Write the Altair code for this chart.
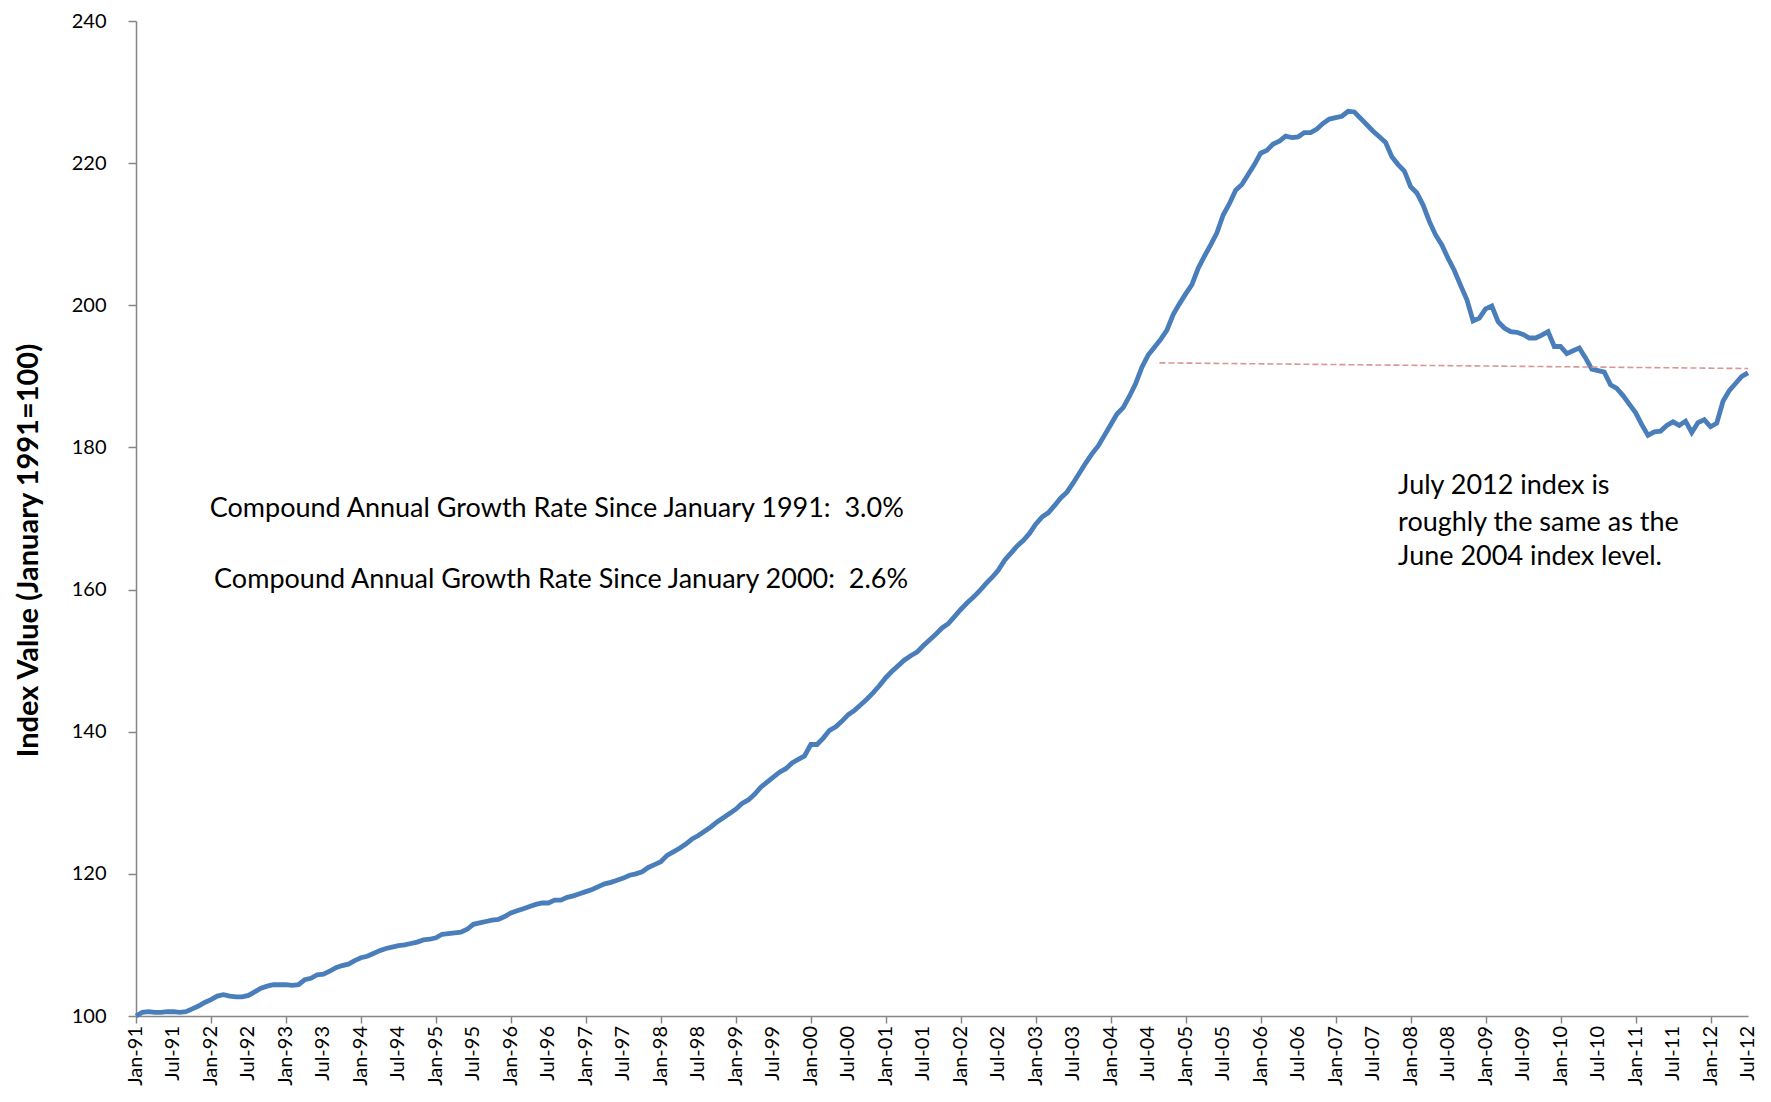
import altair as alt
import pandas as pd

# Monthly index values, January 1991 = 100
v1991 = [100.0, 100.5, 100.6, 100.5, 100.5, 100.6, 100.6, 100.5, 100.6, 101.0, 101.4, 101.9]
v1992 = [102.3, 102.8, 103.0, 102.8, 102.7, 102.7, 102.9, 103.4, 103.9, 104.2, 104.4, 104.4]
v1993 = [104.4, 104.3, 104.4, 105.1, 105.3, 105.8, 105.9, 106.3, 106.8, 107.1, 107.3, 107.8]
v1994 = [108.2, 108.4, 108.8, 109.2, 109.5, 109.7, 109.9, 110.0, 110.2, 110.4, 110.7, 110.8]
v1995 = [111.0, 111.5, 111.6, 111.7, 111.8, 112.2, 112.9, 113.1, 113.3, 113.5, 113.6, 114.0]
v1996 = [114.5, 114.8, 115.1, 115.4, 115.7, 115.9, 115.9, 116.3, 116.3, 116.7, 116.9, 117.2]
v1997 = [117.5, 117.8, 118.2, 118.6, 118.8, 119.1, 119.4, 119.8, 120.0, 120.3, 120.9, 121.3]
v1998 = [121.7, 122.6, 123.1, 123.6, 124.2, 124.9, 125.4, 126.0, 126.6, 127.3, 127.9, 128.5]
v1999 = [129.1, 129.9, 130.4, 131.2, 132.2, 132.9, 133.6, 134.3, 134.8, 135.6, 136.1, 136.6]
v2000 = [138.2, 138.2, 139.1, 140.2, 140.7, 141.5, 142.4, 143.0, 143.8, 144.6, 145.5, 146.5]
v2001 = [147.6, 148.5, 149.3, 150.1, 150.7, 151.2, 152.1, 152.9, 153.7, 154.6, 155.2, 156.2]
v2002 = [157.2, 158.1, 158.9, 159.8, 160.8, 161.7, 162.7, 164.1, 165.1, 166.1, 166.9, 167.9]
v2003 = [169.2, 170.2, 170.8, 171.8, 172.9, 173.7, 175.0, 176.4, 177.8, 179.1, 180.2, 181.7]
v2004 = [183.2, 184.7, 185.6, 187.2, 189.0, 191.3, 193.0, 194.1, 195.2, 196.5, 198.7, 200.2]
v2005 = [201.6, 202.9, 205.2, 206.9, 208.5, 210.2, 212.7, 214.3, 216.2, 217.0, 218.4, 219.8]
v2006 = [221.4, 221.8, 222.7, 223.1, 223.8, 223.6, 223.7, 224.3, 224.3, 224.8, 225.6, 226.2]
v2007 = [226.4, 226.6, 227.3, 227.2, 226.3, 225.4, 224.5, 223.7, 222.9, 220.9, 219.8, 218.9]
v2008 = [216.7, 215.8, 214.1, 211.8, 209.9, 208.5, 206.6, 204.9, 202.8, 200.8, 197.8, 198.2]
v2009 = [199.5, 199.9, 197.7, 196.8, 196.3, 196.2, 195.9, 195.4, 195.4, 195.8, 196.3, 194.2]
v2010 = [194.2, 193.2, 193.6, 194.0, 192.6, 191.0, 190.8, 190.6, 188.8, 188.3, 187.3, 186.1]
v2011 = [184.9, 183.2, 181.7, 182.2, 182.3, 183.1, 183.6, 183.1, 183.7, 182.1, 183.5, 183.9]
v2012 = [182.9, 183.4, 186.5, 188.0, 189.0, 190.0, 190.5]

index_values = (v1991 + v1992 + v1993 + v1994 + v1995 + v1996 + v1997 + v1998
                + v1999 + v2000 + v2001 + v2002 + v2003 + v2004 + v2005 + v2006
                + v2007 + v2008 + v2009 + v2010 + v2011 + v2012)
months = list(range(len(index_values)))

tick_labels = [
    "Jan-91", "Jul-91", "Jan-92", "Jul-92", "Jan-93", "Jul-93", "Jan-94", "Jul-94",
    "Jan-95", "Jul-95", "Jan-96", "Jul-96", "Jan-97", "Jul-97", "Jan-98", "Jul-98",
    "Jan-99", "Jul-99", "Jan-00", "Jul-00", "Jan-01", "Jul-01", "Jan-02", "Jul-02",
    "Jan-03", "Jul-03", "Jan-04", "Jul-04", "Jan-05", "Jul-05", "Jan-06", "Jul-06",
    "Jan-07", "Jul-07", "Jan-08", "Jul-08", "Jan-09", "Jul-09", "Jan-10", "Jul-10",
    "Jan-11", "Jul-11", "Jan-12", "Jul-12",
]
tick_positions = [i * 6 for i in range(len(tick_labels))]
y_ticks = [100, 120, 140, 160, 180, 200, 220, 240]

# Reference (dashed) line: level near mid-2004 carried to July 2012
ref_month = [163.8, 258]
ref_value = [191.9, 191.1]

df = pd.DataFrame({"month": months, "value": index_values})
ref_df = pd.DataFrame({"month": [ref_month[0]], "month2": [ref_month[1]],
                       "value": [ref_value[0]], "value2": [ref_value[1]]})
xlab_df = pd.DataFrame({"month": tick_positions, "label": tick_labels})

FONT = "Lato"
AXIS_GRAY = "#868686"
PLOT_W, PLOT_H = 1612, 995

x_scale = alt.Scale(domain=[0, 258], nice=False, zero=False)
x_enc = alt.X(
    "month:Q",
    scale=x_scale,
    axis=alt.Axis(
        values=tick_positions, labels=False,
        tickSize=7, tickColor=AXIS_GRAY, domainColor=AXIS_GRAY,
        domainWidth=1.5, tickWidth=1.5, grid=False, title=None,
    ),
)
y_enc = alt.Y(
    "value:Q",
    scale=alt.Scale(domain=[100, 240], nice=False, zero=False),
    axis=alt.Axis(
        values=y_ticks, labelFont=FONT, labelFontSize=20, labelColor="#000000",
        labelPadding=22, tickSize=8, tickColor=AXIS_GRAY, domainColor=AXIS_GRAY,
        domainWidth=1.5, tickWidth=1.5, grid=False,
        title="Index Value (January 1991=100)", titleFont=FONT, titleFontSize=29,
        titleFontWeight="bold", titleColor="#000000", titleAngle=270,
        titleX=-108, titleY=529, titleAlign="center", titleBaseline="middle",
    ),
)

line = alt.Chart(df).mark_line(color="#4A7EBB", strokeWidth=4.8).encode(x=x_enc, y=y_enc)

dashed = alt.Chart(ref_df).mark_rule(
    color="#D99694", strokeWidth=1.6, strokeDash=[6, 3]
).encode(x="month:Q", x2="month2:Q", y="value:Q", y2="value2:Q")

x_labels = alt.Chart(xlab_df).mark_text(
    font=FONT, fontSize=20, color="#000000", angle=270, align="right", baseline="middle"
).encode(x=alt.X("month:Q", scale=x_scale), y=alt.value(PLOT_H + 10), text="label:N")


def label(text, m, v, align="left"):
    return alt.Chart(pd.DataFrame({"t": [text]})).mark_text(
        font=FONT, fontSize=27, color="#000000", align=align, baseline="middle"
    ).encode(x=alt.datum(m), y=alt.datum(v), text="t:N")


texts = [
    label("Compound Annual Growth Rate Since January 1991:\u00a0 3.0%", 11.8, 171.3),
    label("Compound Annual Growth Rate Since January 2000:\u00a0 2.6%", 12.5, 161.4),
    label("July 2012 index is", 202.0, 174.6),
    label("roughly the same as the", 202.0, 169.4),
    label("June 2004 index level.", 202.0, 164.6),
]

chart = alt.layer(line, dashed, x_labels, *texts).properties(
    width=PLOT_W, height=PLOT_H,
    padding={"left": 128, "top": 13, "right": 15, "bottom": 77},
    autosize=alt.AutoSizeParams(type="none"),
    background="white",
).configure_view(stroke=None)

chart.save("out.html", embed_options={"renderer": "svg", "actions": False})
